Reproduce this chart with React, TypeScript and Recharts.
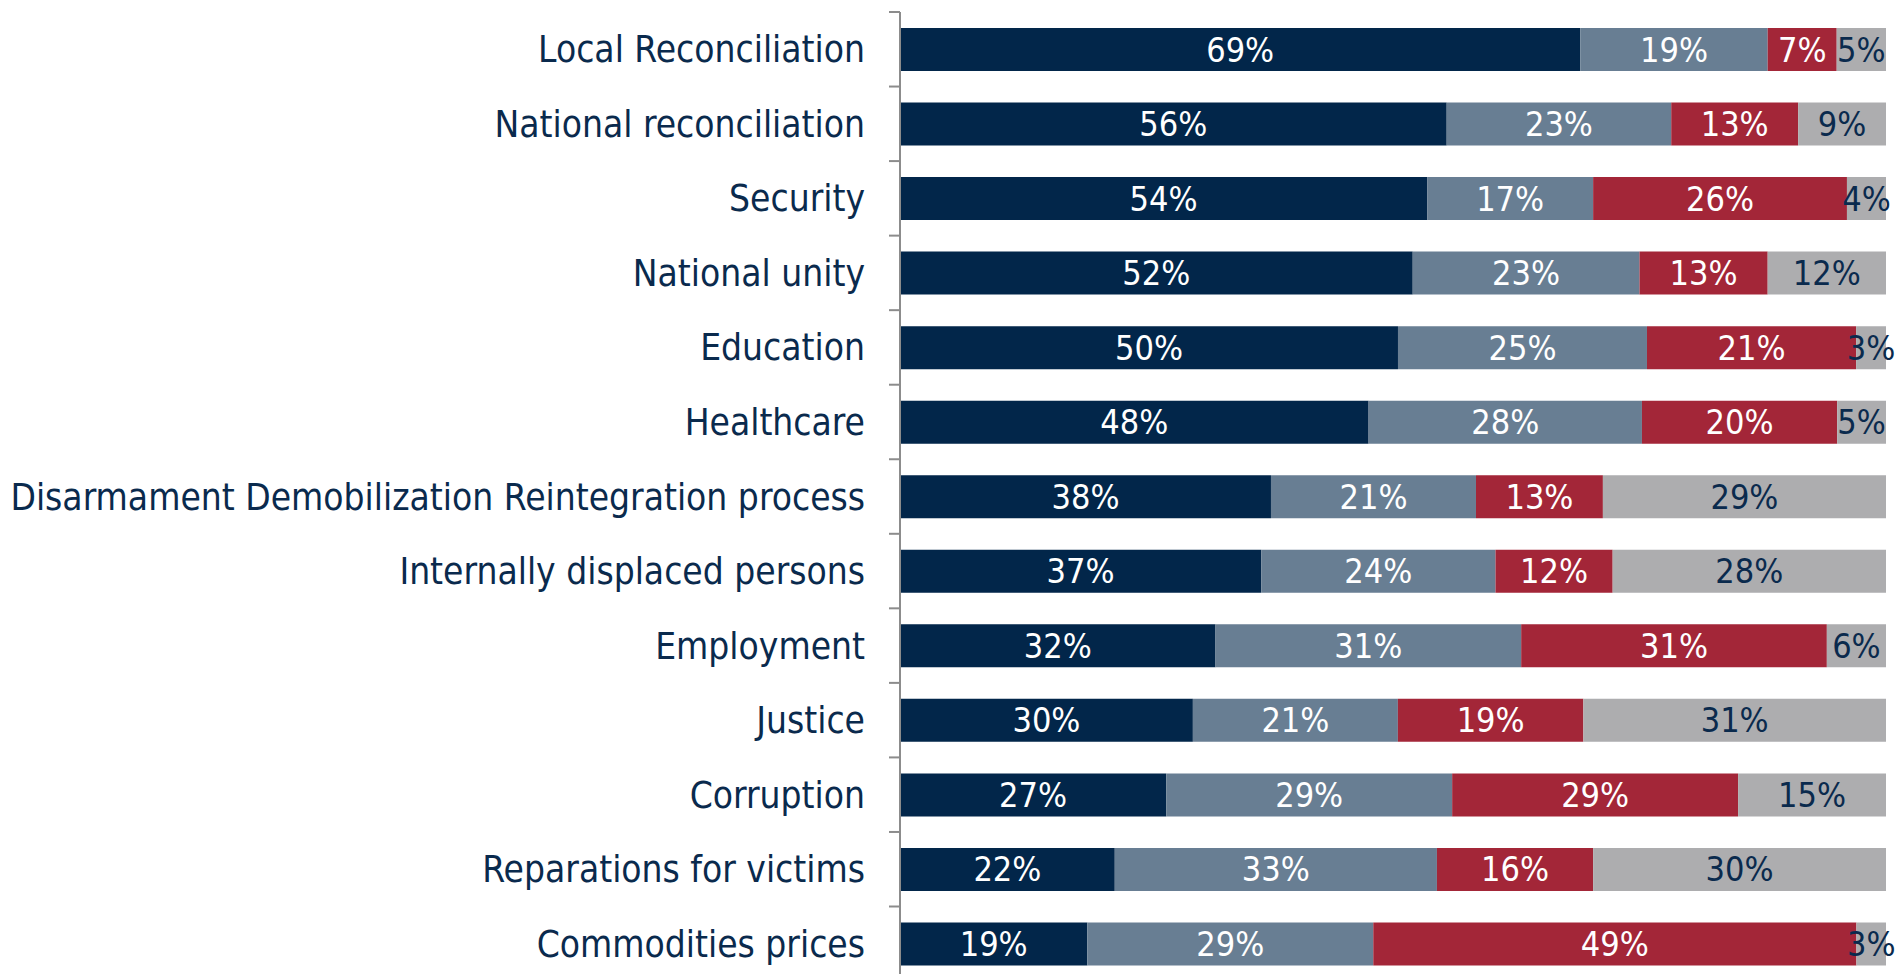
import React from "react";
import { BarChart, Bar, XAxis, YAxis, LabelList } from "recharts";

const categories = [
  "Local Reconciliation",
  "National reconciliation",
  "Security",
  "National unity",
  "Education",
  "Healthcare",
  "Disarmament Demobilization Reintegration process",
  "Internally displaced persons",
  "Employment",
  "Justice",
  "Corruption",
  "Reparations for victims",
  "Commodities prices",
];

const darkValues = [69, 56, 54, 52, 50, 48, 38, 37, 32, 30, 27, 22, 19];
const slateValues = [19, 23, 17, 23, 25, 28, 21, 24, 31, 21, 29, 33, 29];
const redValues = [7, 13, 26, 13, 21, 20, 13, 12, 31, 19, 29, 16, 49];
const greyValues = [5, 9, 4, 12, 3, 5, 29, 28, 6, 31, 15, 30, 3];

const rows = categories.map((category, i) => ({
  category,
  dark: darkValues[i],
  slate: slateValues[i],
  red: redValues[i],
  grey: greyValues[i],
}));

const NAVY = "#02264A";
const SLATE = "#687E93";
const RED = "#A32638";
const GREY = "#ADADAF";
const AXIS = "#8C8C8C";

const CAT_FONT = "'DejaVu Sans Condensed', 'DejaVu Sans', sans-serif";
const PCT_FONT = "'Liberation Sans Narrow', 'DejaVu Sans Condensed', sans-serif";

const pct = (v: unknown) => `${v}%`;
const noLabel = () => <g />;

const SERIES = [
  { key: "dark", fill: NAVY, text: "#ffffff" },
  { key: "slate", fill: SLATE, text: "#ffffff" },
  { key: "red", fill: RED, text: "#ffffff" },
  { key: "grey", fill: GREY, text: "#0A2A4D" },
];

export default function App() {
  return (
    <div
      style={{
        position: "fixed",
        left: 0,
        top: 0,
        width: 1899,
        height: 974,
        overflow: "hidden",
        background: "#fff",
      }}
    >
      <BarChart
        width={1899}
        height={981}
        data={rows}
        layout="vertical"
        stackOffset="expand"
        barSize={43}
        margin={{ top: 12, right: 13, bottom: 0, left: 0 }}
      >
        <XAxis type="number" hide domain={[0, 1]} />
        <YAxis
          type="category"
          dataKey="category"
          width={900}
          axisLine={false}
          tickLine={false}
          tickSize={0}
          tickMargin={35}
          tick={{ fontSize: 36.8, fill: "#0A2A4D", fontFamily: CAT_FONT }}
          interval={0}
        />
        {/* point scale padded by one band so each tick lands on the top edge of a band;
            mirrored to sit on the plot edge, negative size flips the ticks outward */}
        <YAxis
          yAxisId="bounds"
          type="category"
          dataKey="category"
          scale="point"
          padding={{ top: 0, bottom: 74.5 }}
          interval={0}
          mirror
          width={1}
          tick={noLabel}
          tickSize={-11}
          tickLine={{ stroke: AXIS, strokeWidth: 2 }}
          axisLine={{ stroke: AXIS, strokeWidth: 2 }}
        />
        {SERIES.map((s) => (
          <Bar
            key={s.key}
            dataKey={s.key}
            stackId="all"
            fill={s.fill}
            isAnimationActive={false}
          >
            <LabelList
              dataKey={s.key}
              position="center"
              formatter={pct}
              fill={s.text}
              fontSize={34}
              fontFamily={PCT_FONT}
            />
          </Bar>
        ))}
      </BarChart>
    </div>
  );
}
